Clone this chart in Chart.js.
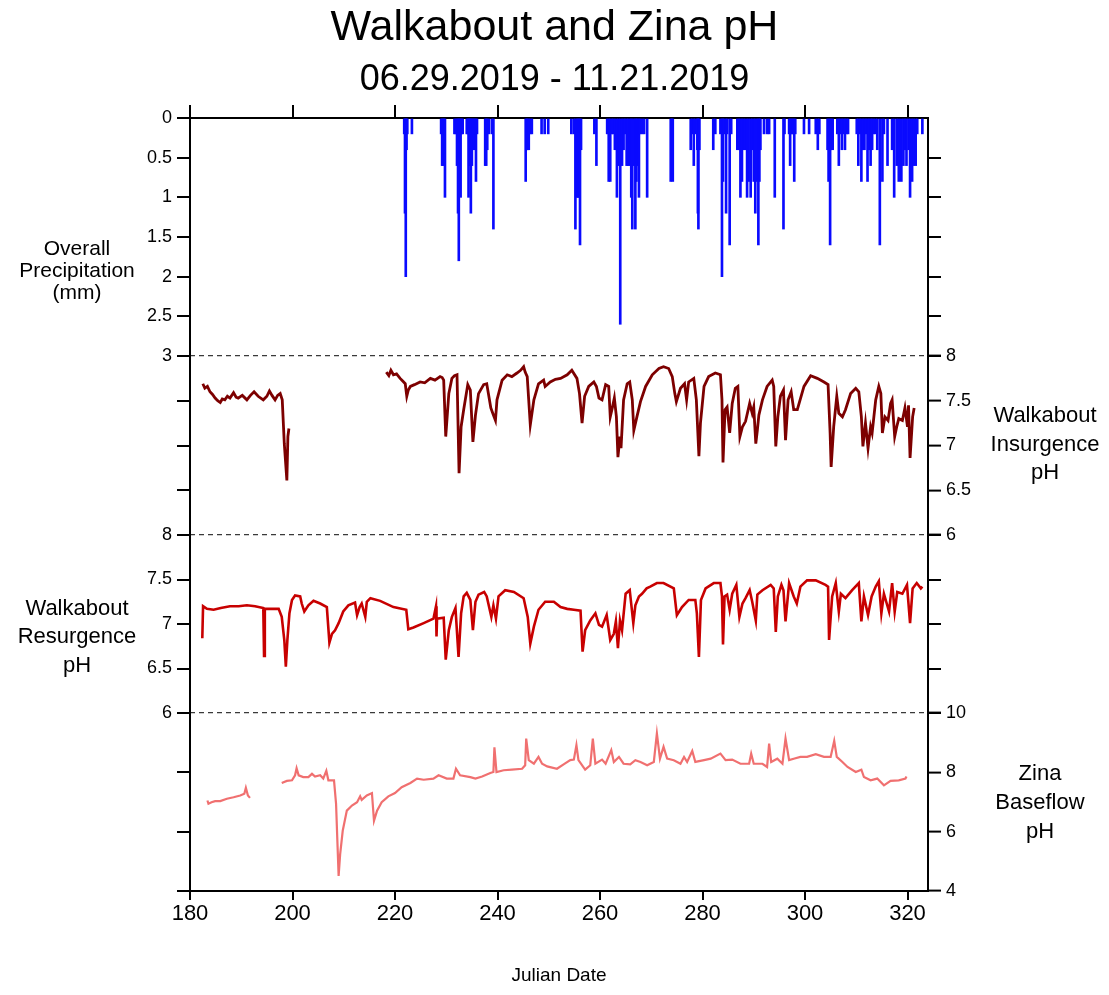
<!DOCTYPE html>
<html>
<head>
<meta charset="utf-8">
<title>Walkabout and Zina pH</title>
<script src="https://cdn.jsdelivr.net/npm/chart.js@4.4.1/dist/chart.umd.min.js"></script>
<style>
  body { margin: 0; background: #fff; }
  #chart_ph { display: block; }
</style>
</head>
<body>
<canvas id="chart_ph" width="1109" height="995"></canvas>
<script>
// tick values
var dayTicks = [180, 200, 220, 240, 260, 280, 300, 320]
var precipTicks = [0, 0.5, 1, 1.5, 2, 2.5, 3]
var insTicks = [6, 6.5, 7, 7.5, 8]
var resTicks = [6, 6.5, 7, 7.5, 8]
var zinaTicks = [4, 6, 8, 10]

// overall precipitation (mm), julian date
var precipDay = [
  221.8, 221.95, 222.1, 222.25, 222.4, 223.3,
  229.0, 229.2, 229.4, 229.6, 229.75,
  231.6, 231.85, 232.1, 232.3, 232.45, 232.6, 232.8, 233.0, 233.2,
  234.0, 234.2, 234.35, 234.5, 234.65, 234.8, 235.0, 235.2, 235.4, 235.6, 235.8, 236.0,
  237.6, 237.8, 238.0, 238.3, 238.9, 239.2,
  245.5, 245.7, 245.9, 246.1, 246.4, 246.7,
  248.6, 249.2, 249.9,
  254.4, 254.9, 255.2, 255.5, 255.7, 255.9, 256.1, 256.3,
  258.9, 259.3,
  261.4, 261.7, 262.0, 262.3, 262.6, 262.9, 263.3, 263.6, 263.95, 264.3, 264.6, 264.9, 265.2,
  265.5, 265.8, 266.1, 266.3, 266.6, 266.9, 267.1, 267.3, 267.6, 267.8, 268.2, 268.6, 269.2,
  273.8, 274.0, 274.2,
  277.7, 278.0, 278.3, 278.6, 279.0, 279.1, 279.2, 279.4,
  282.1, 282.5,
  283.5, 283.8, 284.0, 284.2, 284.6, 284.8, 285.3, 285.6,
  286.8, 287.1, 287.4, 287.7, 288.0, 288.3, 288.7, 289.0, 289.4, 289.7, 290.0, 290.3, 290.6, 290.9, 291.1, 291.3,
  292.0, 292.6, 293.0,
  294.1,
  295.8, 296.0,
  296.9, 297.1, 297.4, 297.6, 297.9, 298.1,
  299.8, 300.8,
  302.1, 302.5, 302.8,
  304.4, 304.6, 304.9, 305.1, 305.4,
  306.3, 306.6, 306.9, 307.2, 307.5, 307.8, 308.1, 308.4,
  310.1, 310.4, 310.7, 311.0, 311.3, 311.6, 311.9, 312.2, 312.5, 312.8, 313.1, 313.4,
  313.8, 314.1, 314.6, 315.1, 315.4, 316.1,
  317.0, 317.4, 317.9, 318.3, 318.8, 319.2, 319.5, 319.8, 320.2, 320.5, 320.9, 321.2, 321.6,
  321.9, 322.9
]
var precipMm = [
  0.2, 1.2, 2.0, 0.4, 0.2, 0.2,
  0.2, 0.6, 0.6, 0.2, 1.0,
  0.2, 0.2, 0.6, 1.2, 1.8, 0.6, 1.0, 0.2, 0.2,
  0.2, 0.2, 1.0, 0.6, 0.6, 1.2, 0.6, 0.2, 0.4, 0.2, 0.8, 0.2,
  0.6, 0.6, 0.4, 0.2, 0.2, 1.4,
  0.8, 0.4, 0.4, 0.4, 0.2, 0.2,
  0.2, 0.2, 0.2,
  0.2, 0.2, 1.4, 1.0, 1.0, 1.0, 1.6, 0.4,
  0.2, 0.6,
  0.2, 0.8, 0.8, 0.2, 0.2, 0.4, 1.0, 0.6, 2.6, 0.6, 0.4, 0.2, 0.6,
  0.6, 0.6, 1.0, 1.4, 0.6, 1.4, 0.8, 0.6, 1.0, 0.2, 0.2, 0.2, 1.0,
  0.8, 0.4, 0.8,
  0.4, 0.2, 0.6, 0.2, 0.4, 1.2, 1.4, 0.4,
  0.4, 0.2,
  0.2, 2.0, 0.8, 0.2, 1.2, 0.2, 1.6, 0.2,
  0.4, 0.4, 1.0, 0.8, 0.4, 0.4, 1.0, 0.8, 1.0, 0.4, 0.8, 1.2, 0.8, 1.6, 0.8, 0.4,
  0.2, 0.2, 0.2,
  1.0,
  1.4, 0.2,
  0.2, 0.6, 0.2, 0.2, 0.8, 0.2,
  0.2, 0.2,
  0.2, 0.4, 0.2,
  0.4, 0.8, 1.6, 0.4, 0.4,
  0.2, 0.6, 0.2, 0.4, 0.2, 0.4, 0.2, 0.2,
  0.2, 0.6, 0.2, 0.8, 0.4, 0.4, 0.2, 0.8, 0.4, 0.6, 0.4, 0.2,
  0.2, 0.4, 1.6, 0.8, 0.2, 0.6,
  0.4, 1.0, 0.6, 0.8, 0.8, 0.6, 0.4, 0.6, 0.4, 1.0, 0.8, 0.6, 0.6,
  0.2, 0.2
]

// Walkabout insurgence pH
var insDay = [
  182.5, 182.9, 183.4, 183.9, 184.4, 184.9, 185.4, 185.9, 186.3, 186.8,
  187.3, 187.8, 188.5, 189.0, 189.4, 190.2, 191.1, 191.8, 192.5, 193.3,
  194.3, 195.0, 195.5, 196.0, 196.6, 197.1, 197.6, 198.0, 198.4, 198.9,
  199.1, 199.3,
  208.0,
  218.3, 218.8, 219.2, 219.7, 220.3, 221.0, 221.5, 222.0, 222.3, 222.6,
  223.0, 223.8, 224.9, 225.8, 226.9, 227.8, 228.8, 229.2, 229.5, 229.9,
  230.5, 231.1, 231.6, 232.1, 232.5, 232.9, 233.4, 234.2, 234.7, 235.2,
  235.7, 236.3, 237.3, 237.9, 238.7, 239.2, 239.6, 239.9, 240.9, 241.9,
  242.8, 243.8, 244.5, 245.1, 245.4, 245.8, 246.4, 247.1, 248.0, 249.0,
  249.3, 250.3, 251.3, 252.3, 253.6, 254.5, 255.5, 256.0, 256.5, 257.0,
  257.8, 258.8, 259.3, 259.8, 260.4, 261.1, 261.7, 262.0, 262.4, 262.8,
  263.2, 263.5, 263.9, 264.1, 264.6, 265.3, 265.8, 266.3, 266.6, 267.2,
  267.9, 268.9, 270.2, 271.5, 272.4, 273.4, 274.1, 274.6, 274.9, 275.7,
  276.5, 276.9, 277.3, 278.3, 278.8, 279.3, 279.6, 280.3, 281.2, 282.5,
  283.5, 283.8, 284.0, 284.4, 284.8, 285.3, 285.8, 286.4, 286.9, 287.3,
  287.8, 288.4, 289.2, 289.7, 290.0, 290.4, 290.7, 291.0, 291.7, 292.6,
  293.6, 293.9, 294.3, 294.7, 295.2, 295.8, 296.2, 296.7, 297.3, 297.8,
  298.5, 299.8, 301.1, 302.4, 303.7, 304.5, 304.9, 305.1, 305.6, 306.2,
  306.6, 307.3, 307.9, 308.9, 309.9, 310.5, 311.0, 311.3, 311.8, 312.3,
  312.8, 313.1, 313.8, 314.4, 314.8, 315.1, 315.6, 316.2, 316.7, 317.0,
  317.5, 317.9, 318.3, 319.0, 319.5, 320.0, 320.2, 320.5, 321.0, 321.3
]
var insPH = [
  7.69, 7.64, 7.66, 7.60, 7.57, 7.53, 7.50, 7.48, 7.52, 7.51,
  7.55, 7.53, 7.59, 7.54, 7.53, 7.56, 7.51, 7.56, 7.60, 7.55,
  7.51, 7.55, 7.61, 7.56, 7.51, 7.56, 7.58, 7.51, 7.02, 6.61,
  7.10, 7.19,
  null,
  7.82, 7.78, 7.84, 7.79, 7.80, 7.75, 7.72, 7.69, 7.55, 7.62,
  7.66, 7.68, 7.71, 7.70, 7.75, 7.73, 7.77, 7.76, 7.73, 7.10,
  7.58, 7.75, 7.78, 7.79, 6.69, 7.21, 7.40, 7.68, 7.62, 7.04,
  7.34, 7.58, 7.68, 7.69, 7.42, 7.34, 7.28, 7.51, 7.73, 7.79,
  7.77, 7.81, 7.84, 7.88, 7.82, 7.77, 7.23, 7.51, 7.69, 7.73,
  7.66, 7.71, 7.74, 7.75, 7.79, 7.84, 7.75, 7.58, 7.25, 7.55,
  7.66, 7.71, 7.66, 7.53, 7.51, 7.68, 7.66, 7.32, 7.42, 7.53,
  7.32, 6.87, 7.10, 6.97, 7.51, 7.69, 7.71, 7.51, 7.17, 7.32,
  7.49, 7.66, 7.79, 7.86, 7.88, 7.86, 7.77, 7.58, 7.49, 7.64,
  7.69, 7.51, 7.71, 7.75, 7.51, 6.88, 7.25, 7.66, 7.77, 7.81,
  7.79, 7.51, 6.81, 7.40, 7.43, 7.14, 7.47, 7.64, 7.66, 7.10,
  7.21, 7.27, 7.47, 7.36, 7.43, 7.02, 7.17, 7.34, 7.51, 7.66,
  7.73, 7.66, 6.99, 7.32, 7.55, 7.62, 7.06, 7.51, 7.60, 7.40,
  7.40, 7.66, 7.78, 7.75, 7.71, 7.68, 7.14, 6.76, 7.21, 7.55,
  7.36, 7.32, 7.40, 7.58, 7.64, 7.60, 7.32, 6.99, 7.25, 6.97,
  7.21, 7.14, 7.51, 7.66, 7.58, 7.14, 7.32, 7.28, 7.47, 7.51,
  7.10, 7.21, 7.30, 7.28, 7.42, 7.21, 7.45, 6.86, 7.32, 7.42
]

// Walkabout resurgence pH
var resDay = [
  182.4, 182.55, 183.3, 184.6, 186.0, 187.8, 189.5, 191.1, 192.7, 194.3,
  194.45, 194.6, 196.0, 197.3, 197.9, 198.4, 198.7, 199.0, 199.4, 199.9,
  200.5, 201.5, 201.8, 202.3, 203.1, 204.1, 205.4, 206.7, 207.2, 207.7,
  208.3, 209.0, 209.9, 210.9, 212.2, 212.6, 213.1, 213.5, 214.2, 214.5,
  215.2, 217.1, 219.7, 222.2, 222.6, 223.6, 225.6, 227.5, 228.0, 228.1,
  228.2, 229.5, 229.9, 230.5, 231.1, 231.8, 232.4, 232.9, 233.4, 234.0,
  234.7, 235.2, 235.7, 236.3, 237.4, 237.9, 238.8, 239.2, 239.7, 240.2,
  241.5, 243.2, 245.1, 245.9, 246.4, 247.1, 248.0, 249.3, 251.0, 252.3,
  253.6, 254.9, 256.2, 256.6, 257.1, 258.1, 259.1, 259.8, 260.4, 261.3,
  262.0, 262.7, 263.1, 263.5, 263.9, 264.3, 265.0, 265.8, 266.5, 266.9,
  267.6, 268.2, 269.1, 269.8, 271.1, 272.4, 274.4, 275.0, 276.0, 277.3,
  278.6, 278.9, 279.3, 279.7, 280.6, 282.2, 283.5, 283.8, 284.0, 284.3,
  284.8, 285.3, 285.8, 286.6, 287.2, 287.8, 288.4, 289.2, 289.7, 290.4,
  290.7, 291.7, 293.3, 293.9, 294.3, 294.7, 295.4, 295.8, 296.2, 296.9,
  297.8, 298.4, 299.1, 300.4, 302.1, 304.0, 304.5, 304.7, 305.3, 306.0,
  306.6, 307.0, 307.9, 309.2, 310.5, 311.0, 311.5, 312.3, 313.0, 313.8,
  314.4, 314.9, 315.4, 316.4, 317.0, 317.5, 318.0, 319.0, 319.9, 320.5,
  321.0, 321.8, 322.6, 322.9
]
var resPH = [
  6.84, 7.20, 7.17, 7.16, 7.18, 7.20, 7.20, 7.21, 7.20, 7.18,
  6.64, 7.17, 7.17, 7.17, 7.08, 6.82, 6.52, 6.82, 7.12, 7.27,
  7.32, 7.31, 7.23, 7.14, 7.21, 7.26, 7.23, 7.19, 6.79, 6.89,
  6.93, 7.01, 7.14, 7.21, 7.24, 7.10, 7.19, 7.23, 7.08, 7.25,
  7.29, 7.26, 7.19, 7.16, 6.94, 6.96, 7.01, 7.06, 7.20, 6.86,
  7.06, 7.07, 6.60, 6.93, 7.08, 7.18, 6.63, 7.12, 7.31, 7.35,
  7.27, 6.93, 7.25, 7.33, 7.36, 7.31, 7.08, 7.21, 7.06, 7.31,
  7.38, 7.36, 7.29, 7.08, 6.78, 6.97, 7.16, 7.25, 7.25, 7.19,
  7.17, 7.16, 7.15, 6.69, 6.93, 7.04, 7.12, 6.99, 6.97, 7.10,
  6.82, 6.89, 7.03, 6.73, 7.04, 6.93, 7.34, 7.38, 7.01, 7.21,
  7.31, 7.34, 7.40, 7.42, 7.46, 7.46, 7.40, 7.10, 7.19, 7.27,
  7.27, 7.12, 6.63, 7.27, 7.40, 7.46, 7.46, 7.31, 6.77, 7.31,
  7.33, 7.16, 7.34, 7.44, 7.08, 7.23, 7.29, 7.38, 7.25, 7.04,
  7.33, 7.38, 7.44, 7.40, 6.91, 7.31, 7.44, 7.38, 7.03, 7.46,
  7.31, 7.23, 7.42, 7.49, 7.49, 7.44, 7.42, 6.82, 7.31, 7.46,
  7.14, 7.34, 7.29, 7.38, 7.46, 7.03, 7.31, 7.10, 7.31, 7.42,
  7.48, 7.12, 7.34, 7.14, 7.46, 7.14, 7.36, 7.34, 7.44, 7.01,
  7.40, 7.46, 7.40, 7.42
]

// Zina baseflow pH
var zinaDay = [
  183.4, 183.6, 184.2, 184.9, 185.9, 187.2, 188.5, 189.8, 190.6, 190.9,
  191.3, 191.7, 195.0, 197.9, 198.9, 199.9, 200.5, 200.8, 201.2, 202.1,
  203.1, 203.8, 204.4, 205.4, 206.0, 206.6, 207.0, 208.1, 208.5, 208.8,
  209.0, 209.3, 209.8, 210.6, 211.6, 212.6, 213.2, 213.5, 214.5, 215.5,
  215.9, 216.5, 217.4, 218.7, 220.0, 221.3, 223.0, 224.3, 225.6, 227.5,
  228.5, 230.1, 231.4, 231.9, 232.7, 234.7, 235.7, 237.0, 238.6, 239.2,
  239.4, 239.8, 241.2, 242.8, 244.8, 245.4, 245.6, 246.1, 247.1, 248.0,
  248.7, 249.7, 251.6, 252.9, 254.2, 254.9, 255.4, 255.8, 257.1, 258.1,
  258.6, 259.1, 260.4, 261.1, 262.2, 262.7, 263.7, 264.6, 265.9, 266.9,
  267.9, 269.2, 270.5, 271.1, 271.7, 272.4, 273.1, 274.4, 275.7, 276.4,
  277.0, 278.0, 278.6, 280.3, 281.6, 283.5, 284.5, 285.8, 287.4, 289.1,
  289.5, 290.0, 291.7, 292.6, 293.0, 293.4, 294.6, 295.6, 296.2, 296.9,
  297.8, 299.1, 300.4, 302.1, 303.7, 305.0, 305.7, 306.2, 307.3, 308.3,
  309.9, 311.0, 311.5, 312.8, 314.1, 315.4, 316.7, 318.3, 319.6, 319.8
]
var zinaPH = [
  7.05, 6.94, 6.99, 7.03, 7.03, 7.11, 7.16, 7.22, 7.28, 7.48,
  7.22, 7.14, null, 7.64, 7.71, 7.73, 7.90, 8.14, 7.90, 7.84,
  7.84, 7.95, 7.86, 7.90, 7.79, 8.05, 7.73, 7.73, 6.94, 5.47,
  4.51, 5.24, 6.03, 6.71, 6.88, 6.99, 7.19, 7.07, 7.22, 7.30,
  6.37, 6.71, 6.99, 7.19, 7.30, 7.50, 7.64, 7.79, 7.75, 7.79,
  7.90, 7.79, 7.79, 8.12, 7.90, 7.84, 7.79, 7.86, 7.98, 8.01,
  8.84, 8.01, 8.07, 8.09, 8.12, 8.24, 9.14, 8.41, 8.29, 8.52,
  8.29, 8.20, 8.12, 8.27, 8.41, 8.43, 8.92, 8.41, 8.09, 8.24,
  9.14, 8.29, 8.43, 8.29, 8.75, 8.35, 8.52, 8.29, 8.27, 8.41,
  8.35, 8.24, 8.35, 9.31, 8.46, 8.86, 8.46, 8.41, 8.29, 8.52,
  8.35, 8.72, 8.35, 8.41, 8.46, 8.63, 8.41, 8.43, 8.29, 8.29,
  8.63, 8.29, 8.29, 8.18, 8.97, 8.35, 8.46, 8.29, 9.14, 8.41,
  8.46, 8.52, 8.52, 8.61, 8.52, 8.52, 9.06, 8.52, 8.35, 8.18,
  8.01, 8.09, 7.84, 7.73, 7.79, 7.56, 7.71, 7.73, 7.79, 7.86
]

// panel captions, drawn beside the axes
var panelCaptions = {
  yP: ['Overall', 'Precipitation', '(mm)'],
  yRL: ['Walkabout', 'Resurgence', 'pH'],
  yI: ['Walkabout', 'Insurgence', 'pH'],
  yZ: ['Zina', 'Baseflow', 'pH']
}

var sansFont = "'Liberation Sans', Arial, sans-serif"
Chart.defaults.font.family = sansFont
Chart.defaults.color = '#000'

function toPoints(days, vals) {
    return days.map(function(d, i) { return {x: d, y: vals[i]}; });
}

function fixedTicks(list) {
    return function(scale) {
        scale.ticks = list.map(function(v) { return {value: v}; });
    };
}

// one y axis of a panel; left and right stacks hold four panels each
function panelAxis(side, min, max, ticks, weight, stackWeight, showLabels, reverse) {
    return {
        type: 'linear',
        axis: 'y',
        position: side,
        stack: side,
        stackWeight: stackWeight,
        weight: weight,
        min: min,
        max: max,
        reverse: !!reverse,
        afterBuildTicks: fixedTicks(ticks),
        afterFit: function(scale) { scale.width = side === 'left' ? 190 : 181; },
        ticks: {
            display: showLabels,
            autoSkip: false,
            padding: 5,
            font: {size: 18},
            color: '#000',
            callback: function(value) { return String(value); }
        },
        grid: {drawOnChartArea: false, drawTicks: true, tickLength: 13, color: '#000', lineWidth: 2},
        border: {display: true, color: '#000', width: 2}
    };
}

// dashed separator across the plot at the given tick values
function withSeparators(axis, values) {
    axis.grid = {
        drawOnChartArea: true,
        drawTicks: true,
        tickLength: 13,
        color: function(c) {
            return c.tick && values.indexOf(c.tick.value) >= 0 ? '#3a3a3a' : 'rgba(0,0,0,0)';
        },
        tickColor: '#000',
        lineWidth: 1.2,
        tickWidth: 2
    };
    axis.border = {display: true, color: '#000', width: 2, dash: [5, 4]};
    return axis;
}

var captionPlugin = {
    id: 'panelCaptions',
    afterDraw: function(chart) {
        var ctx = chart.ctx;
        var place = {
            yP: {dx: 77, dy: 34, step: 22, size: 21},
            yRL: {dx: 77, dy: 13, step: 28.5, size: 22},
            yI: {dx: 117, dy: -1, step: 28.5, size: 22},
            yZ: {dx: 112, dy: 1, step: 29, size: 22}
        };
        Object.keys(panelCaptions).forEach(function(id) {
            var s = chart.scales[id];
            var p = place[id];
            var lines = panelCaptions[id];
            var mid = (s.top + s.bottom) / 2 + p.dy;
            ctx.save();
            ctx.font = p.size + 'px ' + sansFont;
            ctx.fillStyle = '#000';
            ctx.textAlign = 'center';
            ctx.textBaseline = 'middle';
            lines.forEach(function(t, i) {
                ctx.fillText(t, s.left + p.dx, mid + (i - (lines.length - 1) / 2) * p.step);
            });
            ctx.restore();
        });
    }
};

var weights = [238, 179, 178, 178];

var precipRight = panelAxis('right', 0, 3, precipTicks, 1, weights[0], false, true);
// no outward tick at the very top corner on the right
precipRight.grid.tickColor = function(c) { return c.tick && c.tick.value === 0 ? 'rgba(0,0,0,0)' : '#000'; };

var ctx = document.getElementById('chart_ph');

var chartPh = new Chart(ctx, {
    type: 'line',
    data: {
        datasets: [
            {
                type: 'bar',
                label: 'Overall Precipitation',
                data: toPoints(precipDay, precipMm),
                xAxisID: 'x',
                yAxisID: 'yP',
                backgroundColor: '#0a0aff',
                borderWidth: 0,
                barThickness: 2
            },
            {
                label: 'Walkabout Insurgence pH',
                data: toPoints(insDay, insPH),
                xAxisID: 'x',
                yAxisID: 'yI',
                borderColor: '#7d0000',
                borderWidth: 2.8,
                pointRadius: 0,
                tension: 0
            },
            {
                label: 'Walkabout Resurgence pH',
                data: toPoints(resDay, resPH),
                xAxisID: 'x',
                yAxisID: 'yRL',
                borderColor: '#c80000',
                borderWidth: 2.6,
                pointRadius: 0,
                tension: 0
            },
            {
                label: 'Zina Baseflow pH',
                data: toPoints(zinaDay, zinaPH),
                xAxisID: 'x',
                yAxisID: 'yZ',
                borderColor: '#f07070',
                borderWidth: 2.2,
                pointRadius: 0,
                tension: 0
            }
        ]
    },
    options: {
        responsive: false,
        animation: false,
        layout: {padding: 0},
        plugins: {
            legend: {display: false},
            tooltip: {enabled: false},
            title: {
                display: true,
                text: 'Walkabout and Zina pH',
                color: '#000',
                font: {size: 43, weight: 'normal'},
                padding: {top: 2.2, bottom: 2.5}
            },
            subtitle: {
                display: true,
                text: '06.29.2019 - 11.21.2019',
                color: '#000',
                font: {size: 36, weight: 'normal'},
                padding: {top: 2.6, bottom: 1.9}
            }
        },
        scales: {
            x: {
                type: 'linear',
                axis: 'x',
                position: 'bottom',
                min: 180,
                max: 324,
                offset: false,
                afterBuildTicks: fixedTicks(dayTicks),
                afterFit: function(scale) { scale.height = 104; },
                ticks: {autoSkip: false, maxRotation: 0, padding: 1, font: {size: 22}, color: '#000'},
                grid: {drawOnChartArea: false, offset: false, tickLength: 9, color: '#000', lineWidth: 2},
                border: {display: true, color: '#000', width: 2},
                title: {
                    display: true,
                    text: 'Julian Date',
                    font: {size: 19},
                    padding: {top: 0, bottom: 8}
                }
            },
            xTop: {
                type: 'linear',
                axis: 'x',
                position: 'top',
                min: 180,
                max: 324,
                offset: false,
                afterBuildTicks: fixedTicks(dayTicks),
                afterFit: function(scale) { scale.height = 14; },
                ticks: {display: false},
                grid: {drawOnChartArea: false, offset: false, tickLength: 13, color: '#000', lineWidth: 2},
                border: {display: true, color: '#000', width: 2}
            },
            yP: panelAxis('left', 0, 3, precipTicks, 4, weights[0], true, true),
            yIL: panelAxis('left', 6, 8, insTicks, 3, weights[1], false),
            yRL: panelAxis('left', 6, 8, resTicks, 2, weights[2], true),
            yZL: panelAxis('left', 4, 10, zinaTicks, 1, weights[3], false),
            yPR: precipRight,
            yI: withSeparators(panelAxis('right', 6, 8, insTicks, 2, weights[1], true), [6, 8]),
            yRR: panelAxis('right', 6, 8, resTicks, 3, weights[2], false),
            yZ: withSeparators(panelAxis('right', 4, 10, zinaTicks, 4, weights[3], true), [10])
        }
    },
    plugins: [captionPlugin]
});
</script>
</body>
</html>
